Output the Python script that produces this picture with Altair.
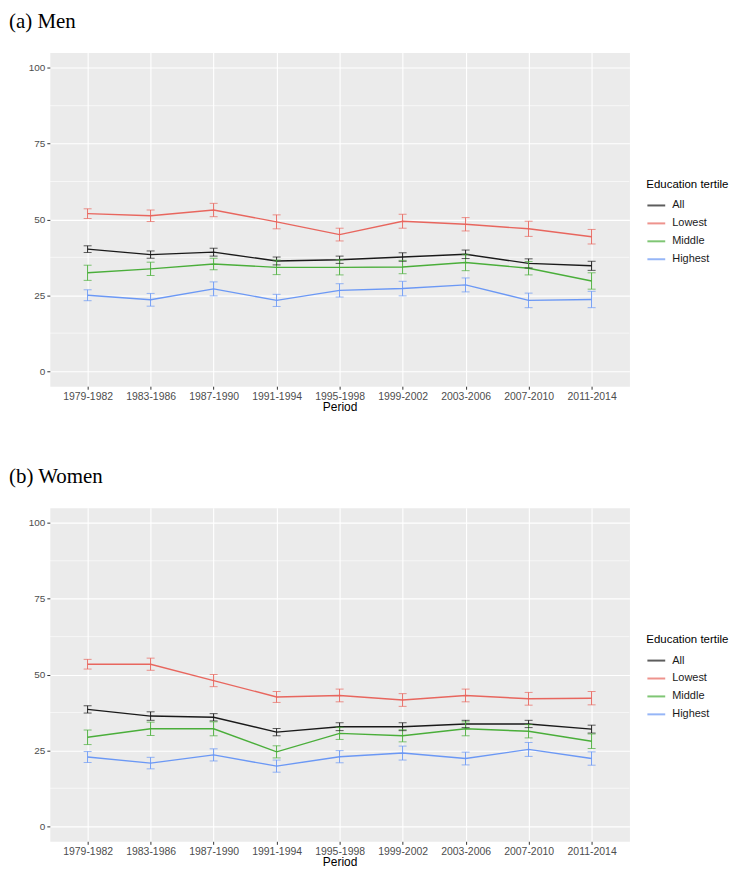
import altair as alt
import pandas as pd

periods = ["1979-1982", "1983-1986", "1987-1990", "1991-1994", "1995-1998",
           "1999-2002", "2003-2006", "2007-2010", "2011-2014"]
groups = ["All", "Lowest", "Middle", "Highest"]
colors = ["#1a1a1a", "#E8665E", "#4AAE3A", "#6B98F5"]

# Men
men_all = [40.2, 38.4, 39.2, 36.3, 36.7, 37.6, 38.5, 35.5, 34.7]
men_all_err = [1.1, 1.2, 1.3, 1.3, 1.2, 1.4, 1.4, 1.5, 1.5]
men_low = [51.9, 51.2, 53.1, 49.2, 45.0, 49.4, 48.4, 46.9, 44.3]
men_low_err = [1.6, 1.9, 2.2, 2.3, 2.1, 2.3, 2.2, 2.5, 2.4]
men_mid = [32.4, 33.7, 35.3, 34.2, 34.2, 34.3, 35.8, 33.9, 29.7]
men_mid_err = [2.5, 2.2, 1.9, 2.4, 2.5, 2.2, 2.7, 2.2, 2.7]
men_high = [25.0, 23.5, 27.1, 23.3, 26.6, 27.2, 28.4, 23.3, 23.6]
men_high_err = [1.8, 2.1, 2.3, 2.0, 2.2, 2.4, 2.3, 2.4, 2.7]

# Women
women_all = [38.5, 36.3, 35.9, 31.0, 32.8, 32.8, 33.7, 33.7, 32.0]
women_all_err = [1.2, 1.4, 1.2, 1.2, 1.3, 1.3, 1.2, 1.2, 1.3]
women_low = [53.4, 53.4, 48.0, 42.6, 43.1, 41.6, 43.1, 42.0, 42.2]
women_low_err = [1.6, 2.0, 2.0, 1.8, 2.1, 2.1, 2.1, 2.1, 2.2]
women_mid = [29.3, 32.1, 32.1, 24.5, 30.6, 29.8, 32.1, 31.3, 28.0]
women_mid_err = [2.4, 2.2, 2.3, 2.0, 2.0, 2.0, 2.3, 2.2, 2.4]
women_high = [22.8, 20.8, 23.5, 19.8, 22.9, 24.1, 22.3, 25.3, 22.3]
women_high_err = [1.8, 1.9, 2.0, 2.0, 2.0, 2.3, 2.1, 2.3, 2.2]

minor_grid = [12.5, 37.5, 62.5, 87.5]


def make_df(series):
    rows = []
    for g, vals, errs in series:
        for p, v, e in zip(periods, vals, errs):
            rows.append({"period": p, "group": g, "value": v,
                         "lo": v - e, "hi": v + e})
    return pd.DataFrame(rows)


men_df = make_df([("All", men_all, men_all_err), ("Lowest", men_low, men_low_err),
                  ("Middle", men_mid, men_mid_err), ("Highest", men_high, men_high_err)])
women_df = make_df([("All", women_all, women_all_err), ("Lowest", women_low, women_low_err),
                    ("Middle", women_mid, women_mid_err), ("Highest", women_high, women_high_err)])


def panel(df, title):
    xenc = alt.X("period:N", sort=periods,
                 scale=alt.Scale(type="point", padding=0.6),
                 axis=alt.Axis(title="Period", labelAngle=0, labelFontSize=10.5,
                               labelColor="#4d4d4d", titleFontSize=12,
                               titleFontWeight="normal", titleColor="#000000",
                               titlePadding=0, tickSize=3, tickColor="#333333",
                               labelPadding=2, domain=False, grid=True,
                               gridColor="white", gridWidth=1.1))
    yscale = alt.Scale(domain=[-5, 105], nice=False, zero=False)
    yaxis = alt.Axis(title=None, values=[0, 25, 50, 75, 100], labelFontSize=10,
                     labelColor="#4d4d4d", tickSize=3, tickColor="#333333",
                     labelPadding=2, domain=False, grid=True, gridColor="white",
                     gridWidth=1.1, minExtent=33)
    color = alt.Color("group:N", scale=alt.Scale(domain=groups, range=colors),
                      legend=alt.Legend(title="Education tertile", orient="none",
                                        legendX=599, legendY=127,
                                        symbolType="stroke", symbolSize=320,
                                        symbolStrokeWidth=2, titleFontSize=11.5,
                                        titleFontWeight="normal", titleColor="#000000",
                                        labelFontSize=11, labelColor="#1a1a1a",
                                        labelOffset=6,
                                        rowPadding=3, titlePadding=5))
    base = alt.Chart(df)
    minor = alt.Chart(pd.DataFrame({"m": minor_grid})).mark_rule(
        color="white", strokeWidth=0.6).encode(
        y=alt.Y("m:Q", scale=yscale, axis=yaxis))
    line = base.mark_line(strokeWidth=1.4).encode(
        x=xenc, y=alt.Y("value:Q", scale=yscale, axis=yaxis), color=color)
    err = base.mark_rule(strokeWidth=1).encode(
        x=xenc, y=alt.Y("lo:Q", scale=yscale, axis=yaxis), y2="hi:Q", color=color)
    tlo = base.mark_tick(size=8, thickness=1).encode(
        x=xenc, y=alt.Y("lo:Q", scale=yscale, axis=yaxis), color=color)
    thi = base.mark_tick(size=8, thickness=1).encode(
        x=xenc, y=alt.Y("hi:Q", scale=yscale, axis=yaxis), color=color)
    return alt.layer(minor, line, err, tlo, thi).properties(
        width=582, height=335,
        title=alt.TitleParams(title, anchor="start", frame="bounds",
                              font="Liberation Serif", fontSize=21,
                              fontWeight="normal", color="#000000",
                              offset=21, dx=-8))


chart = alt.vconcat(panel(men_df, "(a) Men"), panel(women_df, "(b) Women"),
                    spacing=52).resolve_legend(color="independent").resolve_scale(
    color="independent").configure(
    font="Liberation Sans", padding=0,
    view=alt.ViewConfig(fill="#EBEBEB", stroke="transparent"))

chart.save("out.html", embed_options={"renderer": "svg", "actions": False})
